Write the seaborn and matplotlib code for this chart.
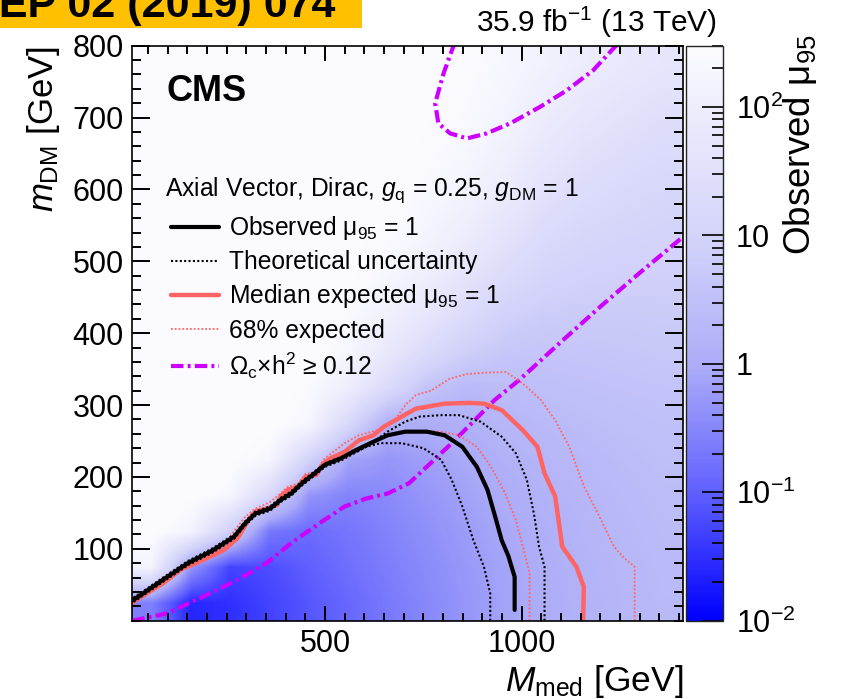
"""Observed mu_95 limit map for the axial-vector DM model, CMS style."""
import numpy as np
import matplotlib
matplotlib.use("Agg")
import matplotlib.pyplot as plt
import matplotlib.cm as cm
import seaborn as sns
from matplotlib.colors import LinearSegmentedColormap, LogNorm, Normalize
from matplotlib.lines import Line2D
from matplotlib.patches import Rectangle
from matplotlib.ticker import MultipleLocator, FixedLocator, FixedFormatter, LogLocator, NullFormatter

# --- heat map: log10(observed mu_95), rows are m_DM bins, columns M_med bins ---
med_centres = [60, 160, 260, 360, 460, 560, 660, 760, 860, 960, 1060, 1160, 1260, 1360]
dm_centres = [25, 75, 125, 175, 225, 275, 325, 375, 425, 475, 525, 575, 625, 675, 725, 775]
log_mu_rows = [
    [-0.6, -1.6, -1.5, -1.3, -1.1, -0.9, -0.68, -0.48, -0.3, -0.12, 0.04, 0.16, 0.26, 0.34],
    [2.2, -0.3, -1.3, -1.2, -1.0, -0.8, -0.62, -0.44, -0.27, -0.1, 0.06, 0.18, 0.28, 0.36],
    [2.5, 2.2, 0.9, -0.7, -0.85, -0.72, -0.55, -0.38, -0.22, -0.05, 0.1, 0.22, 0.31, 0.39],
    [2.6, 2.5, 2.3, 1.2, -0.3, -0.55, -0.45, -0.3, -0.14, 0.03, 0.16, 0.27, 0.35, 0.42],
    [2.6, 2.6, 2.5, 2.3, 1.0, -0.1, -0.3, -0.18, -0.03, 0.13, 0.24, 0.33, 0.4, 0.46],
    [2.6, 2.6, 2.6, 2.5, 2.3, 1.2, 0.1, 0.04, 0.12, 0.26, 0.35, 0.42, 0.47, 0.52],
    [2.6, 2.6, 2.6, 2.6, 2.4, 2.0, 1.3, 0.6, 0.35, 0.42, 0.48, 0.53, 0.57, 0.6],
    [2.6, 2.6, 2.6, 2.6, 2.5, 2.3, 1.8, 1.3, 0.9, 0.68, 0.63, 0.65, 0.67, 0.7],
    [2.6, 2.6, 2.6, 2.6, 2.6, 2.4, 2.1, 1.7, 1.3, 0.95, 0.82, 0.79, 0.79, 0.8],
    [2.6, 2.6, 2.6, 2.6, 2.6, 2.5, 2.3, 2.0, 1.6, 1.3, 1.05, 0.95, 0.91, 0.9],
    [2.6, 2.6, 2.6, 2.6, 2.6, 2.5, 2.4, 2.2, 1.9, 1.55, 1.25, 1.11, 1.04, 1.0],
    [2.6, 2.6, 2.6, 2.6, 2.6, 2.6, 2.5, 2.3, 2.1, 1.8, 1.45, 1.29, 1.18, 1.1],
    [2.6, 2.6, 2.6, 2.6, 2.6, 2.6, 2.5, 2.4, 2.25, 2.0, 1.65, 1.45, 1.32, 1.22],
    [2.6, 2.6, 2.6, 2.6, 2.6, 2.6, 2.55, 2.45, 2.35, 2.15, 1.85, 1.62, 1.48, 1.36],
    [2.6, 2.6, 2.6, 2.6, 2.6, 2.6, 2.6, 2.5, 2.4, 2.25, 2.0, 1.8, 1.65, 1.52],
    [2.6, 2.6, 2.6, 2.6, 2.6, 2.6, 2.6, 2.55, 2.45, 2.3, 2.15, 1.95, 1.82, 1.7],
]

# --- contours (M_med, m_DM) in GeV ---
obs_med = [982, 982, 966, 949, 935, 913, 886, 849, 804, 759, 704, 659, 623, 577, 541, 500,
           469, 441, 414, 387, 360, 323, 296, 269, 215, 151, 88, 24, 10]
obs_dm = [15, 61, 90, 112, 140, 182, 214, 242, 258, 263, 263, 258, 249, 237, 226, 217,
          203, 191, 177, 168, 156, 149, 135, 117, 98, 80, 57, 33, 28]

theo_lo_med = [920, 920, 904, 877, 849, 822, 795, 750, 695, 641, 605, 568, 541, 500,
               469, 441, 414, 387, 360, 323, 296, 269, 215, 151, 88, 24, 10]
theo_lo_dm = [0, 38, 75, 112, 159, 196, 224, 240, 247, 247, 242, 231, 223, 214,
              200, 188, 174, 165, 153, 146, 132, 114, 95, 77, 54, 30, 25]

theo_hi_med = [1058, 1058, 1044, 1031, 1013, 985, 949, 895, 840, 795, 741, 704, 659, 605,
               568, 541, 500, 469, 441, 414, 387, 360, 323, 296, 269, 215, 151, 88, 24, 10]
theo_hi_dm = [0, 75, 103, 149, 196, 233, 256, 277, 286, 286, 284, 277, 263, 242,
              232, 228, 219, 206, 194, 180, 171, 159, 152, 138, 120, 101, 83, 60, 36, 31]

exp_med = [1156, 1158, 1139, 1103, 1085, 1058, 1040, 1003, 949, 904, 867, 804, 731, 695, 650,
           623, 586, 550, 514, 496, 478, 450, 432, 405, 387, 378, 351, 323, 305, 278, 242,
           188, 133, 88, 20, 10]
exp_dm = [0, 47, 75, 103, 173, 205, 242, 265, 293, 302, 303, 302, 295, 284, 270,
          258, 251, 235, 226, 219, 203, 200, 187, 182, 173, 161, 156, 152, 140, 115, 98,
          84, 71, 52, 29, 24]

exp68_lo_med = [1020, 1020, 1003, 985, 958, 922, 886, 840, 795, 750, 695, 659, 623, 577, 541,
                500, 469, 441, 414, 387, 360, 323, 296, 269, 215, 151, 88, 24, 10]
exp68_lo_dm = [0, 66, 103, 140, 177, 214, 242, 258, 263, 264, 263, 258, 250, 238, 227,
               218, 204, 192, 178, 169, 157, 150, 136, 118, 99, 81, 58, 34, 29]

exp68_hi_med = [1287, 1287, 1257, 1235, 1230, 1194, 1158, 1121, 1085, 1049, 1003, 960, 904,
                860, 818, 769, 731, 704, 677, 632, 586, 550, 514, 496, 478, 450, 432, 405,
                387, 360, 323, 296, 269, 242, 188, 133, 88, 20, 10]
exp68_hi_dm = [0, 75, 89, 103, 108, 149, 187, 242, 279, 307, 330, 346, 345,
               343, 337, 320, 314, 300, 279, 265, 258, 247, 232, 224, 207, 204, 191, 186,
               177, 165, 156, 144, 125, 102, 88, 75, 57, 34, 30]

relic_low_med = [10, 97, 188, 278, 351, 414, 487, 550, 605, 659, 713, 768, 822, 877, 931, 994,
                 1100, 1200, 1300, 1410]
relic_low_dm = [0, 10, 33, 57, 80, 108, 136, 159, 170, 177, 191, 219, 247, 277, 307, 335,
                388, 437, 484, 534]

relic_high_med = [830, 801, 780, 788, 818, 861, 911, 971, 1047, 1115, 1182, 1248]
relic_high_dm = [805, 761, 720, 692, 678, 671, 678, 692, 715, 738, 766, 805]

cbar_ticks = [0.01, 0.1, 1, 10, 100]
cbar_ticklabels = [r"$10^{-2}$", r"$10^{-1}$", "1", "10", r"$10^{2}$"]

# --- style ---
sns.set_theme(style="ticks")
plt.rcParams["font.family"] = ["Liberation Sans", "DejaVu Sans"]
plt.rcParams["mathtext.fontset"] = "custom"
plt.rcParams["mathtext.rm"] = "Liberation Sans"
plt.rcParams["mathtext.it"] = "Liberation Sans:italic"
plt.rcParams["mathtext.bf"] = "Liberation Sans:bold"
plt.rcParams["axes.axisbelow"] = False
plt.rcParams["text.color"] = "black"
plt.rcParams["axes.labelcolor"] = "black"

red = "#ff6464"
magenta = "#cc00ff"
cmap = LinearSegmentedColormap.from_list(
    "blue_white",
    [(0.0, "#0000ff"), (0.22, "#5f5fff"), (0.44, "#ababf8"),
     (0.66, "#d2d2fa"), (0.88, "#ececfd"), (1.0, "#fbfbff")])
vmin, vmax = 0.01, 300.0
xlim, ylim = (10, 1410), (0, 800)

W, H = 859, 699
fig = plt.figure(figsize=(W / 100, H / 100), dpi=100)
ax = fig.add_axes([132.3 / W, (H - 620.7) / H, (683 - 132.3) / W, (620.7 - 45.7) / H])
cax = fig.add_axes([686 / W, (H - 620.7) / H, (723 - 686) / W, (620.7 - 45.7) / H])

half_dx = (med_centres[1] - med_centres[0]) / 2
half_dy = (dm_centres[1] - dm_centres[0]) / 2
ax.imshow(np.array(log_mu_rows), origin="lower", aspect="auto",
          extent=(med_centres[0] - half_dx, med_centres[-1] + half_dx,
                  dm_centres[0] - half_dy, dm_centres[-1] + half_dy),
          cmap=cmap, norm=Normalize(np.log10(vmin), np.log10(vmax)),
          interpolation="bilinear", zorder=0)

dotted = (0, (1, 1.1))
dashdot = (0, (3.0, 1.0, 0.7, 1.0))
curves = [
    (relic_low_med, relic_low_dm, magenta, 3.0, dashdot),
    (relic_high_med, relic_high_dm, magenta, 3.0, dashdot),
    (exp68_hi_med, exp68_hi_dm, red, 1.3, dotted),
    (exp68_lo_med, exp68_lo_dm, red, 1.3, dotted),
    (exp_med, exp_dm, red, 3.2, "-"),
    (theo_hi_med, theo_hi_dm, "black", 1.5, dotted),
    (theo_lo_med, theo_lo_dm, "black", 1.5, dotted),
    (obs_med, obs_dm, "black", 3.0, "-"),
]
for xs, ys, col, lw, ls in curves:
    sns.lineplot(x=xs, y=ys, sort=False, estimator=None, ax=ax, color=col,
                 linewidth=lw, linestyle=ls, zorder=3)

ax.set_xlim(*xlim)
ax.set_ylim(*ylim)
ax.xaxis.set_major_locator(FixedLocator([500, 1000]))
ax.xaxis.set_minor_locator(MultipleLocator(50))
ax.yaxis.set_major_locator(FixedLocator(list(range(100, 801, 100))))
ax.yaxis.set_minor_locator(MultipleLocator(20))
ax.tick_params(which="both", direction="in", top=True, right=True, bottom=True, left=True,
               width=1.4, labelsize=22, colors="black")
ax.tick_params(axis="x", which="major", length=11, pad=6)
ax.tick_params(axis="x", which="minor", length=5.5)
ax.tick_params(axis="y", which="major", length=13, pad=6)
ax.tick_params(axis="y", which="minor", length=6.5)
ax.xaxis.set_zorder(5)
ax.yaxis.set_zorder(5)
for sp in ax.spines.values():
    sp.set_linewidth(1.2)
    sp.set_color("black")
    sp.set_zorder(6)

ax.set_xlabel(r"$M_{\mathrm{med}}$ [GeV]", loc="right", fontsize=25.5, labelpad=3)
ax.set_ylabel(r"$m_{\mathrm{DM}}$ [GeV]", loc="top", fontsize=25, labelpad=8)

# colour bar
sm = cm.ScalarMappable(norm=LogNorm(vmin, vmax), cmap=cmap)
cbar = fig.colorbar(sm, cax=cax)
cbar.outline.set_linewidth(1.0)
cbar.outline.set_zorder(6)
cax.set_axisbelow(False)
cax.yaxis.set_zorder(5)
cax.yaxis.set_major_locator(FixedLocator(cbar_ticks))
cax.yaxis.set_major_formatter(FixedFormatter(cbar_ticklabels))
cax.yaxis.set_minor_locator(LogLocator(subs=np.arange(2, 10)))
cax.yaxis.set_minor_formatter(NullFormatter())
cax.tick_params(which="both", direction="in", right=True, left=False, width=1.2,
                labelsize=22, pad=9, colors="black")
cax.tick_params(which="major", length=15)
cax.tick_params(which="minor", length=8)
fig.text(800 / W, 1 - 34 / H, r"Observed μ$_{95}$", rotation=90, ha="center", va="top",
         fontsize=26.5)

# texts
ax.text(0.063, 0.92, "CMS", transform=ax.transAxes, fontsize=26, fontweight="bold",
        va="center", ha="left")
ax.text(0.059, 0.749, r"Axial Vector, Dirac, $g_{\mathrm{q}}$ = 0.25, $g_{\mathrm{DM}}$ = 1",
        transform=ax.transAxes, fontsize=17.7, va="center", ha="left")
fig.text(717 / W, 1 - 32 / H, r"35.9 fb$^{-1}$ (13 TeV)", ha="right", va="baseline",
         fontsize=21.5)

fig.patches.append(Rectangle((0, 1 - 27.7 / H), 362 / W, 27.7 / H, transform=fig.transFigure,
                             facecolor="#ffc000", edgecolor="none", zorder=5))
fig.text(335 / W, 1 - 17 / H, "JHEP 02 (2019) 074", ha="right", va="baseline",
         fontsize=31, fontweight="bold", zorder=6)

handles = [
    Line2D([], [], color="black", lw=3.0),
    Line2D([], [], color="black", lw=1.5, ls=dotted),
    Line2D([], [], color=red, lw=3.2),
    Line2D([], [], color=red, lw=1.3, ls=dotted),
    Line2D([], [], color=magenta, lw=3.0, ls=dashdot),
]
labels = [
    r"Observed μ$_{95}$ = 1",
    "Theoretical uncertainty",
    r"Median expected μ$_{95}$ = 1",
    "68% expected",
    r"Ω$_{\mathrm{c}}$×h$^{2}$ ≥ 0.12",
]
ax.legend(handles, labels, loc="upper left", bbox_to_anchor=(0.07, 0.707), frameon=False,
          fontsize=17.7, handlelength=1.95, handletextpad=0.4, labelspacing=0.33,
          borderpad=0, borderaxespad=0)

fig.savefig("out.png", dpi=100)
